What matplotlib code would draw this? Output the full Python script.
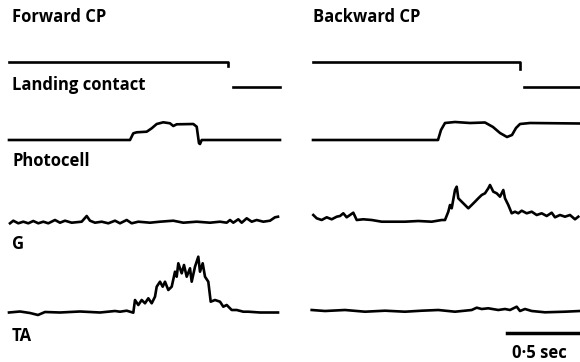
import matplotlib.pyplot as plt

# traces, in pixel coordinates (x right, y down)
# Forward CP
fwd_contact_x = [9, 228, 228]
fwd_contact_y = [62, 62, 66]
fwd_contact2_x = [233, 280]
fwd_contact2_y = [87, 87]

fwd_photo_x = [9, 130, 133.3, 136.7, 146.7, 151.7, 156.7, 163.3, 170, 173.3, 176.7,
               193.3, 196.7, 199, 200, 201.7, 280]
fwd_photo_y = [140, 140, 133.3, 132.3, 131.7, 128.3, 124, 122.3, 123.3, 126, 124.3,
               124, 126.7, 143.3, 144, 140, 140]

fwd_g_x = [10, 13.3, 18.3, 23.3, 28.3, 33.3, 38.3, 43.3, 48.3, 55, 60, 65, 71.7, 81.7,
           86.7, 90, 95, 101.7, 108.3, 115, 120, 126.7, 131.7, 138.3, 150, 160, 173.3,
           183.3, 196.7, 210, 220, 226.7, 230, 233.3, 238.3, 241.7, 246.7, 251.7,
           256.7, 263.3, 270, 275, 278]
fwd_g_y = [223.3, 220.7, 223.3, 221.7, 223.3, 221, 223.3, 221.7, 223.3, 220, 222.7,
           220.7, 222.7, 221.7, 216, 220.7, 222.7, 221.7, 223.3, 220.7, 223.3, 220,
           223.3, 221.7, 222.7, 221.7, 220.7, 222.7, 221.7, 222.7, 221.7, 222.7, 220,
           222.7, 219.3, 222.7, 218.3, 221.7, 220, 221.7, 220.7, 217.3, 216.7]

fwd_ta_x = [9, 20, 30, 38, 45, 60, 80, 100, 115, 120, 126.7, 133.3, 135, 138.3, 141.7,
            145, 148.3, 151.7, 155, 156.7, 160, 162.7, 165, 168.3, 171.7, 175, 176.7,
            178.3, 181.7, 184, 186.7, 190, 191.7, 195, 198.3, 200, 202.7, 205, 208.3,
            210.7, 215, 220, 223.3, 226.7, 231.7, 236.7, 243.3, 248.3, 260, 278]
fwd_ta_y = [312.5, 311.5, 313, 315, 312, 312.5, 311.5, 312.5, 311, 311.7, 310.7, 312.7,
            300, 305, 300, 303.3, 298.3, 303.3, 296.7, 286.7, 281.7, 286.7, 281.7, 290,
            286.7, 271.7, 276.7, 263.3, 273.3, 265, 276.7, 268.3, 281.7, 266.7, 256.7,
            271.7, 263.3, 276.7, 281.7, 301.7, 300, 301.7, 306.7, 305, 310, 310, 311.7,
            311.7, 312.5, 312.5]

# Backward CP
bwd_contact_x = [313, 520, 520]
bwd_contact_y = [62, 62, 69]
bwd_contact2_x = [524, 580]
bwd_contact2_y = [87, 87]

bwd_photo_x = [313, 438, 441, 445, 455, 470, 485, 493, 500, 507, 512, 516, 520, 530, 580]
bwd_photo_y = [140, 140, 130, 123, 122, 123, 122.5, 127, 133, 137, 135, 128, 124, 123, 123.5]

bwd_g_x = [313.3, 316.7, 321.7, 326.7, 331.7, 336.7, 340, 343.3, 346.7, 350, 353.3,
           356.7, 363.3, 371.7, 381.7, 391.7, 405, 418.3, 431.7, 441.7, 445, 448.3, 450,
           451.7, 455, 456.7, 458.3, 461.7, 465, 468.3, 471.7, 475, 478.3, 481.7, 485,
           488.3, 490, 493.3, 496.7, 500, 503.3, 505, 508.3, 511.7, 515, 518.3, 521.7,
           526.7, 531.7, 536.7, 541.7, 546.7, 551.7, 555, 560, 565, 570, 575, 578.3]
bwd_g_y = [215, 218.3, 220, 217.3, 219.3, 216.7, 216, 213.3, 217.3, 215, 212.7, 220,
           219.3, 220, 221.7, 221.7, 221.7, 221, 221.7, 220, 220, 211.7, 205, 208.3, 190,
           186.7, 198.3, 201.7, 205, 208.3, 205, 201.7, 198.3, 195, 193.3, 188.3, 185,
           191.7, 193.3, 196.7, 190, 198.3, 205, 213.3, 211.7, 213.3, 210.7, 213.3, 211.7,
           215, 213.3, 216, 212.7, 217.3, 215, 216.7, 215, 219.3, 216.7]

bwd_ta_x = [311.7, 325, 345, 365, 385, 405, 421.7, 438.3, 455, 471.7, 476.7, 481.7,
            488.3, 498.3, 505, 510, 516.7, 520, 525, 531.7, 545, 565, 580]
bwd_ta_y = [310, 311, 310, 311.7, 310.7, 311.7, 310.7, 310, 311.7, 310, 307.7, 309,
            308.3, 310, 309, 310, 306.7, 311, 309, 311, 312.3, 311.7, 311]

scale_x = [507, 580]
scale_y = [332.5, 332.5]

titles = ["Forward CP", "Backward CP"]
row_labels = ["Landing contact", "Photocell", "G", "TA"]
scale_label = "0\u00b75 sec"

fig = plt.figure(figsize=(5.8, 3.62), dpi=100)
ax = fig.add_axes([0, 0, 1, 1])
ax.set_xlim(0, 580)
ax.set_ylim(362, 0)
ax.axis('off')

lw = 1.9
for xs, ys in [(fwd_contact_x, fwd_contact_y), (fwd_contact2_x, fwd_contact2_y),
               (fwd_photo_x, fwd_photo_y), (fwd_g_x, fwd_g_y), (fwd_ta_x, fwd_ta_y),
               (bwd_contact_x, bwd_contact_y), (bwd_contact2_x, bwd_contact2_y),
               (bwd_photo_x, bwd_photo_y), (bwd_g_x, bwd_g_y), (bwd_ta_x, bwd_ta_y)]:
    ax.plot(xs, ys, color='black', lw=lw, solid_joinstyle='round')

ax.plot(scale_x, scale_y, color='black', lw=2.5)

font = dict(family='Open Sans', weight='bold', size=12, color='black', va='top', ha='left')
ax.text(12, 8, titles[0], **font)
ax.text(313, 8, titles[1], **font)
ax.text(12, 76, row_labels[0], **font)
ax.text(12, 152, row_labels[1], **font)
ax.text(12, 235, row_labels[2], **font)
ax.text(12, 327, row_labels[3], **font)
ax.text(512, 344, scale_label, **font)

fig.savefig('out.png', dpi=100)
